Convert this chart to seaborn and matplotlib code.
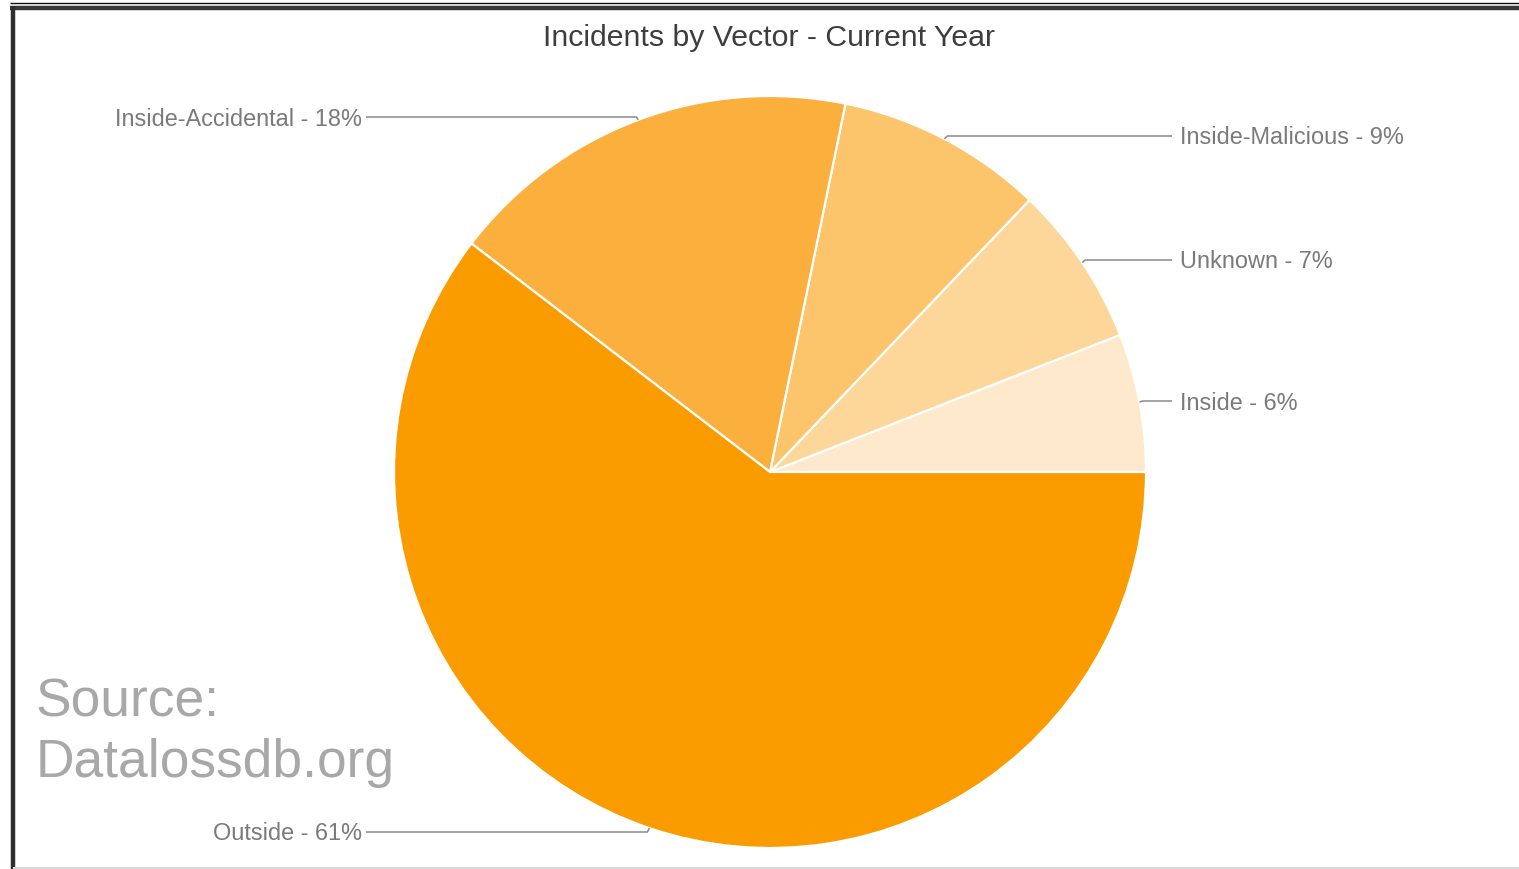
import numpy as np
import matplotlib
matplotlib.use("Agg")
import matplotlib.pyplot as plt
import seaborn as sns

# Incident vectors, in drawing order (counter-clockwise from 3 o'clock)
vectors = ["Inside", "Unknown", "Inside-Malicious", "Inside-Accidental", "Outside"]
shares = [6, 7, 9, 18, 61]
slice_colors = ["#FEE9CC", "#FDD699", "#FCC46B", "#FBB03E", "#FA9B00"]

title = "Incidents by Vector - Current Year"
source_note = "Source:\nDatalossdb.org"

sns.set_theme(style="white")
plt.rcParams["font.family"] = ["Liberation Sans", "DejaVu Sans"]

W, H = 1519, 869
fig = plt.figure(figsize=(W / 100, H / 100), dpi=100)
ax = fig.add_axes([0, 0, 1, 1])


def fy(y):
    """Convert a top-down pixel row to the axes' bottom-up coordinate."""
    return H - y


cx, cy, r = 770, fy(472), 376
wedges, _ = ax.pie(
    shares, colors=slice_colors, startangle=0, counterclock=True,
    radius=r, center=(cx, cy),
    wedgeprops=dict(edgecolor="white", linewidth=1.6),
)

ax.set_xlim(0, W)
ax.set_ylim(0, H)
ax.set_aspect("equal")
ax.axis("off")

# Leader lines and callout labels
label_rows = [401, 260, 136, 117, 832]
line_color = "#8a8a8a"
text_color = "#7a7a7a"
for w, name, val, row in zip(wedges, vectors, shares, label_rows):
    mid = np.deg2rad((w.theta1 + w.theta2) / 2)
    ax_x = cx + r * np.cos(mid)
    ax_y = cy + r * np.sin(mid)
    right = np.cos(mid) > 0
    elbow_x = ax_x + (3 if right else -2)
    end_x = 1172 if right else 366
    ax.plot([ax_x, elbow_x, end_x], [ax_y, fy(row), fy(row)],
            color=line_color, lw=1.1, solid_capstyle="butt", zorder=3)
    ax.text(1180 if right else 362, fy(row + 2), f"{name} - {val}%",
            ha="left" if right else "right", va="center",
            fontsize=16.9, color=text_color)

ax.text(769, fy(38), title, ha="center", va="center",
        fontsize=21.8, color="#3d3d3d")

ax.text(36, fy(733), source_note, ha="left", va="center",
        fontsize=38.4, color="#a8a8a8", linespacing=1.27)

# Frame around the chart panel
ax.plot([10, W], [fy(2.5), fy(2.5)], color="#111111", lw=1.0, solid_capstyle="butt")
ax.plot([10, W], [fy(7.5), fy(7.5)], color="#383838", lw=3.2, solid_capstyle="butt")
ax.plot([13, 13], [fy(6), fy(869)], color="#2e2e2e", lw=3.2, solid_capstyle="butt")
ax.plot([13, W], [fy(867.5), fy(867.5)], color="#d8d8d8", lw=1.5, solid_capstyle="butt")

fig.savefig("out.png", dpi=100, facecolor="white")
